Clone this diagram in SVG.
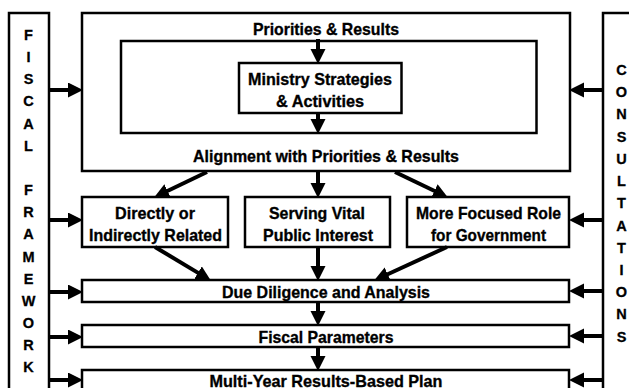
<svg xmlns="http://www.w3.org/2000/svg" width="629" height="388" viewBox="0 0 629 388">
<style>
.box{fill:#fff;stroke:#000;stroke-width:2.5}
.t{font-family:"Liberation Sans Narrow","Liberation Sans",Arial,sans-serif;font-weight:bold;font-size:17px;fill:#000;stroke:#000;stroke-width:0.35;text-anchor:middle}
.v{font-family:"Liberation Sans",Arial,sans-serif;font-weight:bold;font-size:14.5px;fill:#000;stroke:#000;stroke-width:0.3;text-anchor:middle}
.c{stroke:#000;stroke-width:4;fill:none;marker-end:url(#ah)}
</style>
<defs>
<marker id="ah" markerUnits="userSpaceOnUse" markerWidth="16" markerHeight="16" refX="6" refY="7.5" orient="auto" viewBox="0 0 16 16">
<path d="M0,0 L15,7.5 L0,15 z" fill="#000"/>
</marker>
</defs>
<rect width="629" height="388" fill="#fff"/>
<g id="fiscal-framework">
<rect class="box" x="9" y="13" width="40" height="400"/>
<text class="v"><tspan x="28.5" y="40">F</tspan><tspan x="28.5" y="62">I</tspan><tspan x="28.5" y="84">S</tspan><tspan x="28.5" y="106">C</tspan><tspan x="28.5" y="129">A</tspan><tspan x="28.5" y="151">L</tspan><tspan x="28.5" y="195">F</tspan><tspan x="28.5" y="217">R</tspan><tspan x="28.5" y="239">A</tspan><tspan x="28.5" y="262">M</tspan><tspan x="28.5" y="284">E</tspan><tspan x="28.5" y="306">W</tspan><tspan x="28.5" y="328">O</tspan><tspan x="28.5" y="350">R</tspan><tspan x="28.5" y="372">K</tspan></text>
</g>
<g id="consultations">
<rect class="box" x="603" y="13" width="40" height="400"/>
<text class="v"><tspan x="621.5" y="75">C</tspan><tspan x="621.5" y="97">O</tspan><tspan x="621.5" y="119">N</tspan><tspan x="621.5" y="142">S</tspan><tspan x="621.5" y="164">U</tspan><tspan x="621.5" y="186">L</tspan><tspan x="621.5" y="208">T</tspan><tspan x="621.5" y="231">A</tspan><tspan x="621.5" y="253">T</tspan><tspan x="621.5" y="275">I</tspan><tspan x="621.5" y="297">O</tspan><tspan x="621.5" y="319">N</tspan><tspan x="621.5" y="342">S</tspan></text>
</g>
<g id="priorities-results">
<rect class="box" x="82" y="13" width="488" height="158"/>
<text class="t" x="326" y="34.5" textLength="146" lengthAdjust="spacingAndGlyphs">Priorities &amp; Results</text>
<text class="t" x="326" y="162" textLength="266" lengthAdjust="spacingAndGlyphs">Alignment with Priorities &amp; Results</text>
</g>
<g id="inner-frame">
<rect class="box" x="121" y="41" width="415.5" height="92"/>
</g>
<g id="ministry-strategies">
<rect class="box" x="239" y="63" width="162.5" height="50"/>
<text class="t" x="320" y="85" textLength="144" lengthAdjust="spacingAndGlyphs">Ministry Strategies</text>
<text class="t" x="320" y="106.5" textLength="88" lengthAdjust="spacingAndGlyphs">&amp; Activities</text>
</g>
<g id="directly-related">
<rect class="box" x="82" y="197" width="146" height="50"/>
<text class="t" x="155" y="218.5" textLength="80" lengthAdjust="spacingAndGlyphs">Directly or</text>
<text class="t" x="155.5" y="240.5" textLength="133" lengthAdjust="spacingAndGlyphs">Indirectly Related</text>
</g>
<g id="vital-public-interest">
<rect class="box" x="245" y="197" width="145" height="50"/>
<text class="t" x="317" y="218.5" textLength="96" lengthAdjust="spacingAndGlyphs">Serving Vital</text>
<text class="t" x="318" y="240.5" textLength="110" lengthAdjust="spacingAndGlyphs">Public Interest</text>
</g>
<g id="focused-role">
<rect class="box" x="407" y="197" width="162" height="50"/>
<text class="t" x="488.5" y="218.5" textLength="145" lengthAdjust="spacingAndGlyphs">More Focused Role</text>
<text class="t" x="488.5" y="240.5" textLength="115" lengthAdjust="spacingAndGlyphs">for Government</text>
</g>
<g id="due-diligence">
<rect class="box" x="82" y="280" width="487" height="22"/>
<text class="t" x="326" y="298" textLength="208" lengthAdjust="spacingAndGlyphs">Due Diligence and Analysis</text>
</g>
<g id="fiscal-parameters">
<rect class="box" x="82" y="325" width="487" height="22"/>
<text class="t" x="326" y="343" textLength="135" lengthAdjust="spacingAndGlyphs">Fiscal Parameters</text>
</g>
<g id="multi-year-plan">
<rect class="box" x="82" y="370" width="487" height="30"/>
<text class="t" x="326" y="386.5" textLength="233" lengthAdjust="spacingAndGlyphs">Multi-Year Results-Based Plan</text>
</g>
<g id="connectors">
<line class="c" x1="318" y1="39" x2="318" y2="55"/>
<line class="c" x1="318" y1="113" x2="318" y2="125"/>
<line class="c" x1="318" y1="171" x2="318" y2="189"/>
<line class="c" x1="207" y1="172" x2="162.2" y2="193.5"/>
<line class="c" x1="395" y1="172" x2="439.8" y2="193.5"/>
<line class="c" x1="155" y1="247" x2="203.1" y2="275.9"/>
<line class="c" x1="318" y1="247" x2="318" y2="272"/>
<line class="c" x1="447" y1="247" x2="382.3" y2="276.7"/>
<line class="c" x1="318" y1="302" x2="318" y2="317"/>
<line class="c" x1="318" y1="347" x2="318" y2="362"/>
<line class="c" x1="49" y1="90" x2="74" y2="90"/>
<line class="c" x1="49" y1="220" x2="74" y2="220"/>
<line class="c" x1="49" y1="292" x2="74" y2="292"/>
<line class="c" x1="49" y1="337" x2="74" y2="337"/>
<line class="c" x1="49" y1="380" x2="74" y2="380"/>
<line class="c" x1="603" y1="90" x2="578" y2="90"/>
<line class="c" x1="603" y1="220" x2="578" y2="220"/>
<line class="c" x1="603" y1="291" x2="578" y2="291"/>
<line class="c" x1="603" y1="336" x2="578" y2="336"/>
<line class="c" x1="603" y1="380" x2="578" y2="380"/>
</g>
</svg>
